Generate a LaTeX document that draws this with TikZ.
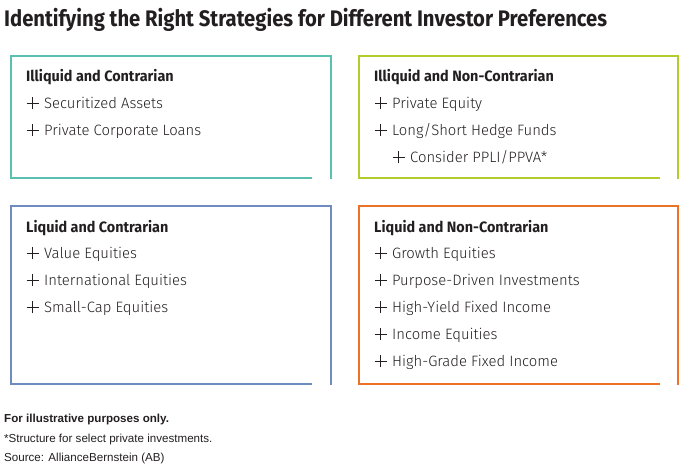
\documentclass[tikz,border=0pt]{standalone}
\usepackage{fontspec}
\setmainfont{Fira Sans}
\newfontfamily\titlefont{Fira Sans}[FakeStretch=0.90]
\newfontfamily\headfont{Fira Sans}[FakeStretch=0.96]
\newfontfamily\itemfont{Fira Sans Light}[FakeStretch=0.99]
\newfontfamily\notefont{Liberation Sans}
\definecolor{tealbox}{HTML}{5BC0B0}
\definecolor{limebox}{HTML}{B4CB2C}
\definecolor{bluebox}{HTML}{6E8BC2}
\definecolor{orangebox}{HTML}{EB7226}
\definecolor{inktext}{HTML}{231F20}
\newcommand{\plusmark}{\tikz[baseline=0pt,x=1pt,y=1pt]\draw[line width=1pt,inktext] (0,5) -- (12,5) (6,-1) -- (6,11);\hspace{5pt}}
\begin{document}
\begin{tikzpicture}[x=1pt,y=-1pt,
		head/.style={anchor=base west,inner sep=0pt,text=inktext,font=\headfont\bfseries\fontsize{15}{17}\selectfont},
		item/.style={anchor=base west,inner sep=0pt,text=inktext,font=\itemfont\fontsize{15}{17}\selectfont},
		note/.style={anchor=base west,inner sep=0pt,text=inktext,font=\notefont\fontsize{11.6}{13}\selectfont},
		frame/.style={line width=2pt}]
		\useasboundingbox (0,0) rectangle (690,463);
		\node[anchor=base west,inner sep=0pt,text=inktext,font=\titlefont\bfseries\fontsize{22.5}{25}\selectfont] (title) at (4,27) {Identifying the Right Strategies for Different Investor Preferences};
		% frames: open bottom corner on the right
		\draw[frame,tealbox] (312,178) -- (11,178) -- (11,56) -- (331,56) -- (331,179);
		\draw[frame,limebox] (660,178) -- (359,178) -- (359,56) -- (678,56) -- (678,179);
		\draw[frame,bluebox] (312,384) -- (11,384) -- (11,206) -- (331,206) -- (331,385);
		\draw[frame,orangebox] (660,384) -- (359,384) -- (359,206) -- (678,206) -- (678,385);
		% illiquid and contrarian
		\node[head] (ic) at (26,81) {Illiquid and Contrarian};
		\node[item] (ic1) at (26,108) {\plusmark Securitized Assets};
		\node[item] (ic2) at (26,135) {\plusmark Private Corporate Loans};
		% illiquid and non-contrarian
		\node[head] (inc) at (374,81) {Illiquid and Non-Contrarian};
		\node[item] (inc1) at (374,108) {\plusmark Private Equity};
		\node[item] (inc2) at (374,135) {\plusmark Long/Short Hedge Funds};
		\node[item] (inc3) at (392,162) {\plusmark Consider PPLI/PPVA*};
		% liquid and contrarian
		\node[head] (lc) at (26,232) {Liquid and Contrarian};
		\node[item] (lc1) at (26,258) {\plusmark Value Equities};
		\node[item] (lc2) at (26,285) {\plusmark International Equities};
		\node[item] (lc3) at (26,312) {\plusmark Small-Cap Equities};
		% liquid and non-contrarian
		\node[head] (lnc) at (374,232) {Liquid and Non-Contrarian};
		\node[item] (lnc1) at (374,258) {\plusmark Growth Equities};
		\node[item] (lnc2) at (374,285) {\plusmark Purpose-Driven Investments};
		\node[item] (lnc3) at (374,312) {\plusmark High-Yield Fixed Income};
		\node[item] (lnc4) at (374,339) {\plusmark Income Equities};
		\node[item] (lnc5) at (374,366) {\plusmark High-Grade Fixed Income};
		% notes
		\node[note,font=\notefont\bfseries\fontsize{11.6}{13}\selectfont] (n1) at (4,422) {For illustrative purposes only.};
		\node[note] (n2) at (4,442) {*Structure for select private investments.};
		\node[note] (n3) at (4,461) {Source: AllianceBernstein (AB)};
	\end{tikzpicture}
\end{document}
